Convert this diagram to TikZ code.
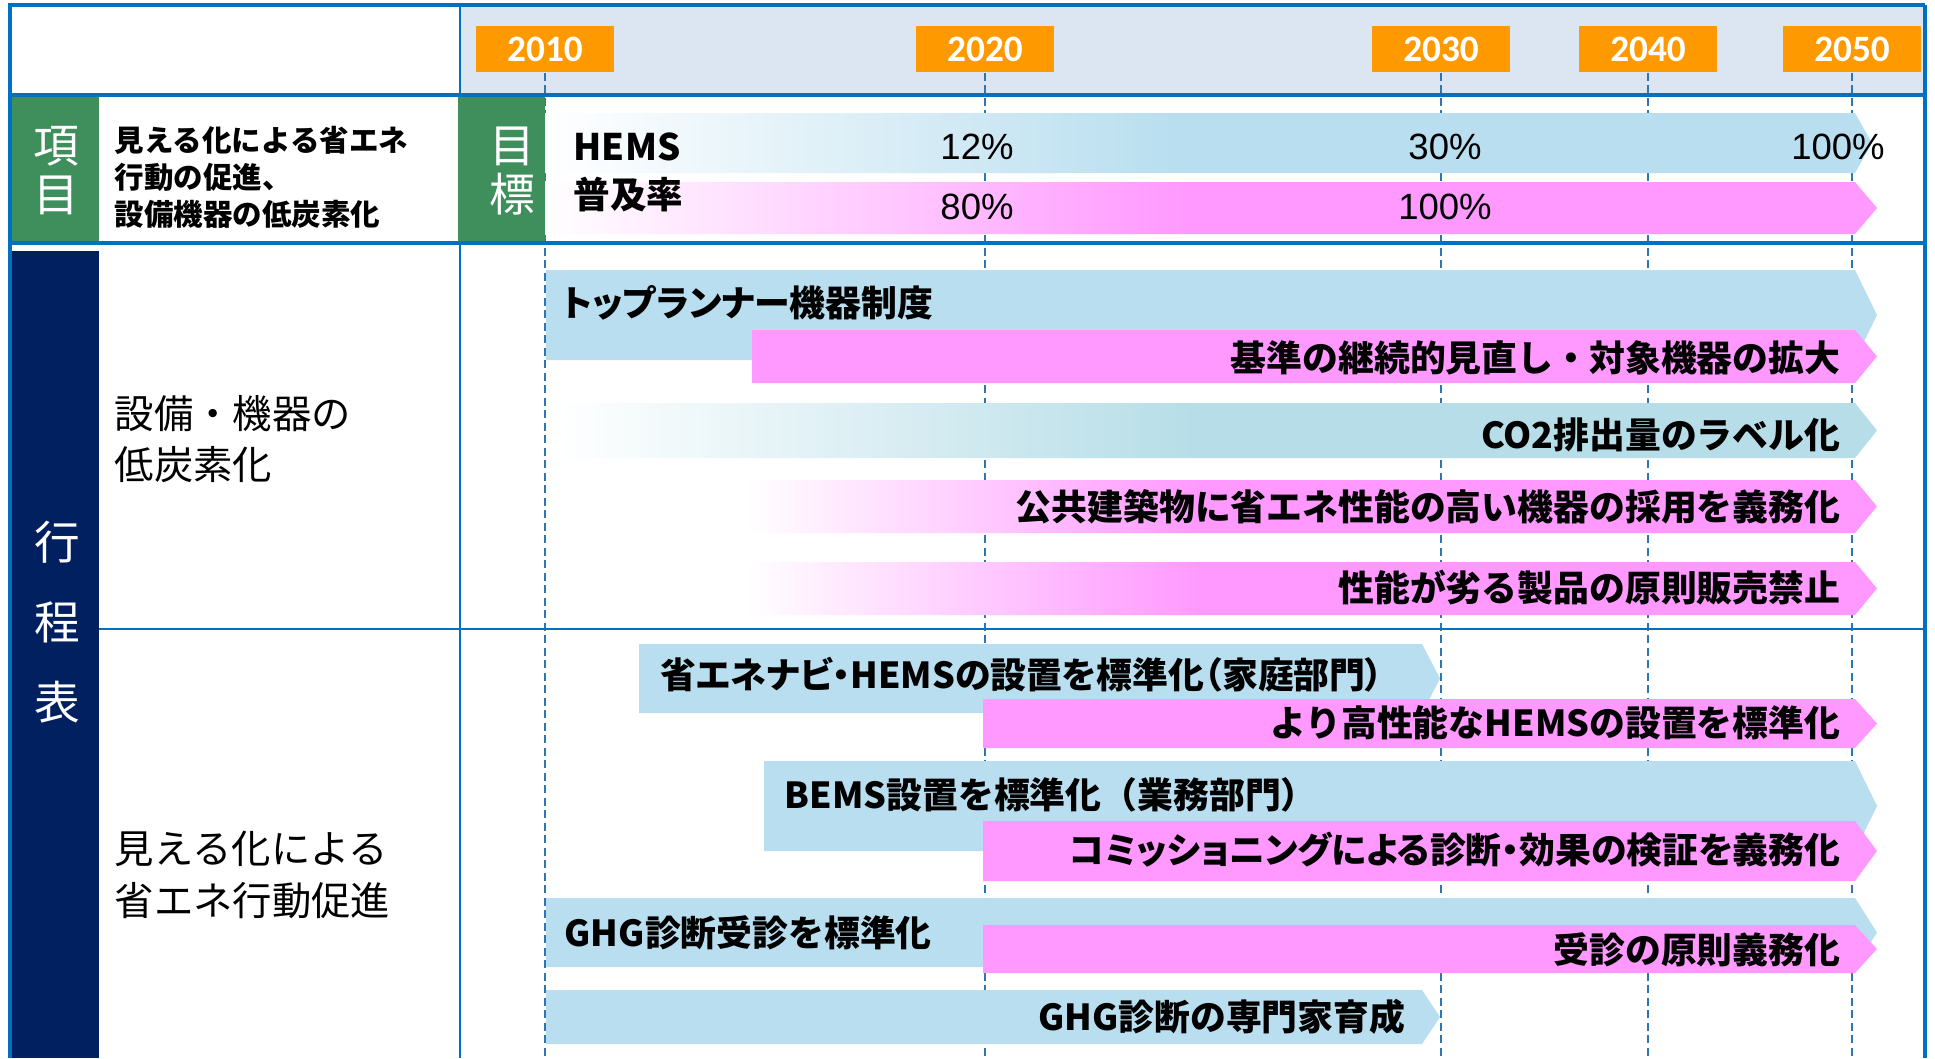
\documentclass[tikz,border=0pt]{standalone}
\usepackage{fontspec}
\setmainfont{Liberation Sans}
\newfontfamily\jp{Noto Sans CJK JP}
\newfontfamily\jpp[RawFeature=+palt]{Noto Sans CJK JP}
\newfontfamily\yr{Carlito}
\definecolor{frameblue}{RGB}{0,112,192}
\definecolor{lineblue}{RGB}{46,117,182}
\definecolor{headbg}{RGB}{220,230,242}
\definecolor{yearorange}{RGB}{255,153,0}
\definecolor{itemgreen}{RGB}{62,143,91}
\definecolor{navy}{RGB}{0,32,96}
\definecolor{barblue}{RGB}{184,222,239}
\definecolor{barteal}{RGB}{183,222,232}
\definecolor{barpink}{RGB}{255,153,255}
\pgfdeclarehorizontalshading{fadeblue}{100bp}{color(0bp)=(white); color(25bp)=(white); color(49bp)=(barblue); color(100bp)=(barblue)}
\pgfdeclarehorizontalshading{fadeteal}{100bp}{color(0bp)=(white); color(25bp)=(white); color(49bp)=(barteal); color(100bp)=(barteal)}
\pgfdeclarehorizontalshading{fadepink}{100bp}{color(0bp)=(white); color(25bp)=(white); color(49bp)=(barpink); color(100bp)=(barpink)}
\pgfdeclarehorizontalshading{fadepinkshort}{100bp}{color(0bp)=(white); color(25bp)=(white); color(45bp)=(barpink); color(100bp)=(barpink)}

\begin{document}
\begin{tikzpicture}[x=0.1mm,y=-0.1mm,
		yearbox/.style={fill=yearorange,text=white,font=\yr\bfseries\fontsize{10.6}{12}\selectfont,minimum width=13.8mm,minimum height=4.6mm,inner sep=0},
		yearline/.style={lineblue,line width=0.6pt,dash pattern=on 0.8mm off 0.45mm},
		tag/.style={text=white,font=\jp\fontsize{13}{13.9}\selectfont,align=center,inner sep=0},
		barlabel/.style={font=\jp\bfseries\fontsize{10.2}{11}\selectfont,inner sep=0},
		proplabel/.style={font=\jpp\bfseries\fontsize{10.2}{11}\selectfont,inner sep=0},
		pct/.style={font=\fontsize{10.4}{12}\selectfont,inner sep=0},
		rowlabel/.style={font=\jp\fontsize{11.2}{14.6}\selectfont,align=left,inner sep=0,anchor=west}]
		\useasboundingbox (0,0) rectangle (1935,1058);
		\fill[white] (0,0) rectangle (1935,1058);
		\fill[headbg] (460,5) rectangle (1925,95);
		\node[yearbox] (y2010) at (545,49) {2010};
		\node[yearbox] (y2020) at (985,49) {2020};
		\node[yearbox] (y2030) at (1441,49) {2030};
		\node[yearbox] (y2040) at (1648,49) {2040};
		\node[yearbox] (y2050) at (1852,49) {2050};
		\draw[yearline] (y2010.south) -- ++(0,986);
		\draw[yearline] (y2020.south) -- ++(0,986);
		\draw[yearline] (y2030.south) -- ++(0,986);
		\draw[yearline] (y2040.south) -- ++(0,986);
		\draw[yearline] (y2050.south) -- ++(0,986);
		\shade[shading=fadeblue] (545,113) -- (1855,113) -- (1872,143) -- (1855,173) -- (545,173) -- cycle;
		\shade[shading=fadepink] (545,182) -- (1855,182) -- (1877,208) -- (1855,234) -- (545,234) -- cycle;
		\fill[barblue] (546,270) -- (1855,270) -- (1877,315) -- (1855,360) -- (546,360) -- cycle;
		\fill[barpink] (752,330) -- (1855,330) -- (1877,356.5) -- (1855,383) -- (752,383) -- cycle;
		\shade[shading=fadeteal] (555,403) -- (1855,403) -- (1877,430.5) -- (1855,458) -- (555,458) -- cycle;
		\shade[shading=fadepinkshort] (747,480) -- (1855,480) -- (1877,506.5) -- (1855,533) -- (747,533) -- cycle;
		\shade[shading=fadepinkshort] (747,562) -- (1855,562) -- (1877,588.5) -- (1855,615) -- (747,615) -- cycle;
		\fill[barblue] (639,644) -- (1422,644) -- (1440,678.5) -- (1422,713) -- (639,713) -- cycle;
		\fill[barpink] (983,699) -- (1855,699) -- (1877,723.5) -- (1855,748) -- (983,748) -- cycle;
		\fill[barblue] (764,761) -- (1855,761) -- (1877,806) -- (1855,851) -- (764,851) -- cycle;
		\fill[barpink] (983,821) -- (1855,821) -- (1877,851) -- (1855,881) -- (983,881) -- cycle;
		\fill[barblue] (546,898) -- (1855,898) -- (1877,932.5) -- (1855,967) -- (546,967) -- cycle;
		\fill[barpink] (983,925) -- (1855,925) -- (1877,949) -- (1855,973) -- (983,973) -- cycle;
		\fill[barblue] (546,990) -- (1422,990) -- (1440,1017) -- (1422,1044) -- (546,1044) -- cycle;
		\fill[itemgreen] (12,97) rectangle (99,242);
		\fill[itemgreen] (458,97) rectangle (545,242);
		\fill[navy] (12,251) rectangle (99,1058);
		\draw[frameblue,line width=0.9pt] (10,1058) -- (10,5) -- (1925,5);
		\draw[frameblue,line width=1.3pt] (1925,5) -- (1925,1058);
		\draw[frameblue,line width=0.9pt] (10,95) -- (1925,95);
		\draw[frameblue,line width=1pt] (10,243) -- (1925,243);
		\draw[frameblue,line width=0.6pt] (99,629) -- (1925,629);
		\draw[frameblue,line width=0.6pt] (460,5) -- (460,97);
		\draw[frameblue,line width=0.6pt] (460,243) -- (460,1058);
		\node[tag] (kou) at (56,171) {項\\目};
		\node[tag] (moku) at (512,171) {目\\標};
		\node[tag,font=\jp\fontsize{13}{22.8}\selectfont] (kotei) at (57,622) {行\\程\\表};
		\node[rowlabel,font=\jp\bfseries\fontsize{8.4}{10.5}\selectfont] (item) at (114,177) {見える化による省エネ\\行動の促進、\\設備機器の低炭素化};
		\node[rowlabel] (equip) at (114,439) {設備・機器の\\低炭素化};
		\node[rowlabel] (visual) at (114,875) {見える化による\\省エネ行動促進};
		\node[barlabel,anchor=west,font=\jp\bfseries\fontsize{10.4}{12}\selectfont] (hems) at (573,147) {HEMS};
		\node[barlabel,anchor=west,font=\jp\bfseries\fontsize{10.4}{12}\selectfont] (rate) at (573,195) {普及率};
		\node[pct] (b12) at (977,147) {12\%};
		\node[pct] (b30) at (1445,147) {30\%};
		\node[pct] (b100) at (1838,147) {100\%};
		\node[pct] (p80) at (977,207) {80\%};
		\node[pct] (p100) at (1445,207) {100\%};
		\node[proplabel,anchor=west] (toprun) at (562,303) {トップランナー機器制度};
		\node[barlabel,anchor=east] (review) at (1841,358) {基準の継続的見直し・対象機器の拡大};
		\node[barlabel,anchor=east] (label) at (1841,435) {CO2排出量のラベル化};
		\node[barlabel,anchor=east] (public) at (1841,507) {公共建築物に省エネ性能の高い機器の採用を義務化};
		\node[barlabel,anchor=east] (ban) at (1841,588) {性能が劣る製品の原則販売禁止};
		\node[proplabel,anchor=west] (navi) at (660,675) {省エネナビ・HEMSの設置を標準化（家庭部門）};
		\node[barlabel,anchor=east] (hhems) at (1841,723) {より高性能なHEMSの設置を標準化};
		\node[barlabel,anchor=west] (bems) at (784,795) {BEMS設置を標準化（業務部門）};
		\node[proplabel,anchor=east] (comm) at (1841,850) {コミッショニングによる診断・効果の検証を義務化};
		\node[barlabel,anchor=west] (ghg) at (564,933) {GHG診断受診を標準化};
		\node[barlabel,anchor=east] (oblig) at (1841,950) {受診の原則義務化};
		\node[barlabel,anchor=east] (expert) at (1406,1017) {GHG診断の専門家育成};
	\end{tikzpicture}
\end{document}
